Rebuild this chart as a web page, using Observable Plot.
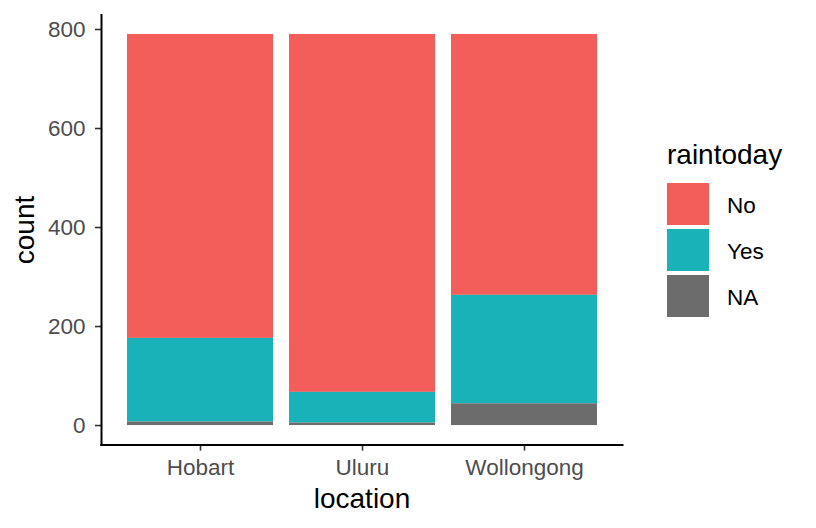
<!DOCTYPE html>
<html>
<head>
<meta charset="utf-8">
<script src="https://cdn.jsdelivr.net/npm/d3@7"></script>
<script src="https://cdn.jsdelivr.net/npm/@observablehq/plot@0.6"></script>
<style>
  html, body { margin: 0; padding: 0; background: #fff; }
  #wrap { position: relative; width: 816px; height: 528px; font-family: "Liberation Sans", Arial, sans-serif; }
  #chart { position: absolute; left: 0; top: 0; }
  #legend { position: absolute; left: 667px; top: 0; }
  .lg-title { position: absolute; left: 0; top: 138px; font-size: 28px; color: #000; white-space: nowrap; line-height: 34px; }
  .lg-key { position: absolute; left: 0; width: 42px; height: 42px; }
  .lg-label { position: absolute; left: 60px; font-size: 22.5px; color: #000; line-height: 42px; white-space: nowrap; }
</style>
</head>
<body>
<div id="wrap">
  <div id="chart"></div>
  <div id="legend"></div>
</div>
<script>
// ---- data ----
const locations = ["Hobart", "Uluru", "Wollongong"];
const rainLevels = ["No", "Yes", "NA"];
const countNo = [614, 723, 527];
const countYes = [169, 62, 219];
const countNA = [7, 5, 44];
const yTicks = [0, 200, 400, 600, 800];
const rainColors = ["#F35E5A", "#19B2B8", "#6C6C6C"];

// table built from the arrays
const rows = [];
locations.forEach((loc, i) => {
  rows.push({location: loc, raintoday: "No", count: countNo[i]});
  rows.push({location: loc, raintoday: "Yes", count: countYes[i]});
  rows.push({location: loc, raintoday: "NA", count: countNA[i]});
});

const maxTotal = d3.max(locations, (_, i) => countNo[i] + countYes[i] + countNA[i]);
const pad = maxTotal * 0.05;

const chart = Plot.plot({
  width: 640,
  height: 528,
  marginLeft: 101,
  marginRight: 18,
  marginTop: 14.4,
  marginBottom: 83.4,
  style: {fontFamily: "'Liberation Sans', Arial, sans-serif", background: "#fff"},
  x: {domain: locations, paddingInner: 0.1, paddingOuter: 0.15, label: null},
  y: {domain: [-pad, maxTotal + pad], label: null},
  color: {domain: rainLevels, range: rainColors},
  marks: [
    Plot.barY(rows, {x: "location", y: "count", fill: "raintoday", order: ["NA", "Yes", "No"]}),
    Plot.axisY({ticks: yTicks, tickSize: 6, tickPadding: 10, fontSize: 22.5, stroke: "#333", strokeWidth: 1.6, fill: "#4D4D4D", label: null}),
    Plot.axisX({tickSize: 6, tickPadding: 8, fontSize: 22.5, stroke: "#333", strokeWidth: 1.6, fill: "#4D4D4D", label: null}),
    Plot.frame({anchor: "left", stroke: "#000", strokeWidth: 2}),
    Plot.frame({anchor: "bottom", stroke: "#000", strokeWidth: 2}),
    Plot.text(["location"], {frameAnchor: "bottom", textAnchor: "middle", lineAnchor: "middle", dy: 54, fontSize: 28, fill: "#000"}),
    Plot.text(["count"], {frameAnchor: "left", textAnchor: "middle", lineAnchor: "middle", rotate: -90, dx: -76, fontSize: 28, fill: "#000"})
  ]
});
document.getElementById("chart").appendChild(chart);

// legend
const lg = document.getElementById("legend");
const t = document.createElement("div");
t.className = "lg-title";
t.textContent = "raintoday";
lg.appendChild(t);
rainLevels.forEach((lvl, i) => {
  const top = 183 + i * 46;
  const k = document.createElement("div");
  k.className = "lg-key";
  k.style.top = top + "px";
  k.style.background = rainColors[i];
  lg.appendChild(k);
  const l = document.createElement("div");
  l.className = "lg-label";
  l.style.top = (top + 2) + "px";
  l.textContent = lvl;
  lg.appendChild(l);
});
</script>
</body>
</html>
